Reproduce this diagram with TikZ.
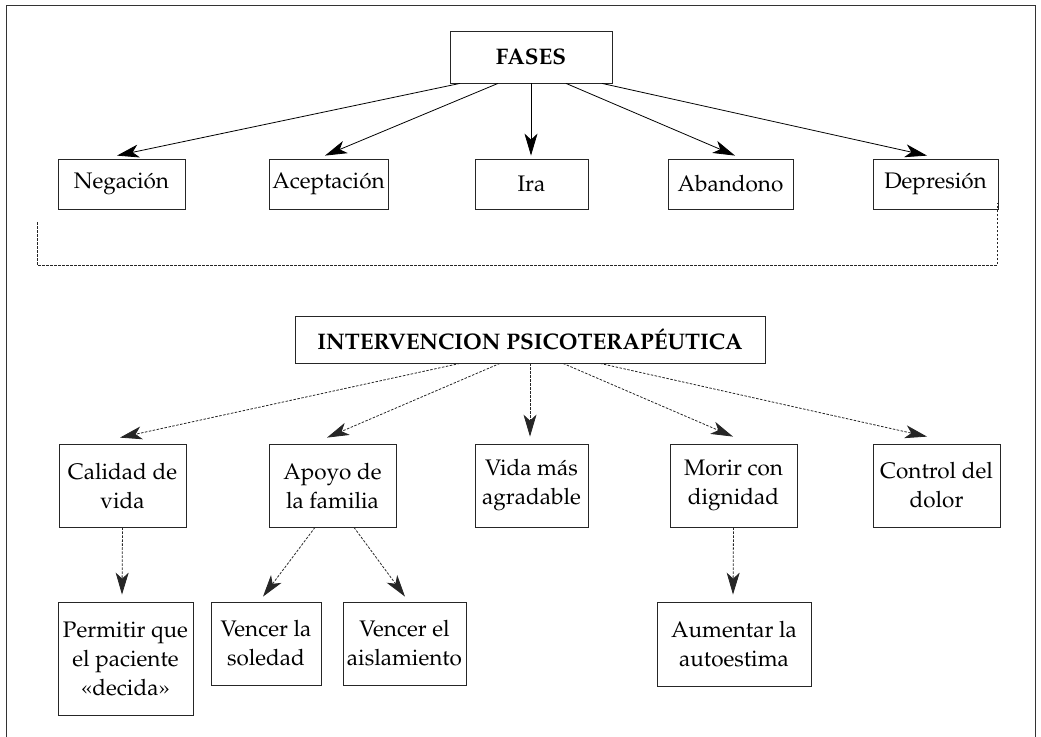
\documentclass[tikz,border=0pt]{standalone}
\usepackage[T1]{fontenc}
\usepackage{mathpazo}
\usetikzlibrary{arrows.meta}
\begin{document}
\begin{tikzpicture}[x=1pt,y=-1pt,
  box/.style={draw=black!85, line width=0.8pt, inner sep=0pt, align=center,
    font=\fontsize{22.5}{29}\selectfont},
  head/.style={box, font=\fontsize{22.5}{29}\selectfont\bfseries},
  tip/.style={-{Stealth[length=22pt,width=13pt,inset=6pt]}},
  solidarrow/.style={tip, line width=0.8pt, black},
  dasharrow/.style={tip, line width=0.8pt, black!85, dash pattern=on 2.5pt off 1.5pt},
  bracketline/.style={line width=0.8pt, black!85, dash pattern=on 2.5pt off 1.5pt}]
\useasboundingbox (0,0) rectangle (1041,736);
% outer frame
\draw[line width=1pt, black!80] (6,740) -- (6,5) -- (1035,5) -- (1035,740);

% top heading
\node[head, minimum width=162pt, minimum height=52pt] (fases) at (531,57) {FASES};
% phases
\node[box, minimum width=127pt, minimum height=50pt] (neg)  at (121.5,184) {Negaci\'on};
\node[box, minimum width=119pt, minimum height=50pt] (acep) at (328.5,184) {Aceptaci\'on};
\node[box, minimum width=113pt, minimum height=50pt] (ira)  at (531.5,184) {Ira};
\node[box, minimum width=125pt, minimum height=50pt] (aban) at (730.5,184) {Abandono};
\node[box, minimum width=125pt, minimum height=50pt] (depr) at (935.5,184) {Depresi\'on};

\draw[solidarrow] ([xshift=-71pt]fases.south) -- ([xshift=-4.5pt,yshift=3pt]neg.north);
\draw[solidarrow] ([xshift=-33pt]fases.south) -- ([xshift=-3.5pt,yshift=3pt]acep.north);
\draw[solidarrow] (fases.south) -- ([xshift=-0.5pt,yshift=3pt]ira.north);
\draw[solidarrow] ([xshift=35pt]fases.south) -- ([xshift=4.5pt,yshift=3pt]aban.north);
\draw[solidarrow] ([xshift=71pt]fases.south) -- ([xshift=-8.5pt,yshift=3pt]depr.north);

% bracket
\coordinate (bl) at (37,222);
\coordinate (br) at (997,203);
\draw[bracketline] (bl) -- (bl |- 0,265) -- (br |- 0,265) -- (br);

% intervention
\node[head, minimum width=470pt, minimum height=47pt] (interv) at (530,339.5) {INTERVENCION PSICOTERAP\'EUTICA};

\node[box, minimum width=127pt, minimum height=83pt] (cal)   at (122.5,485.5) {Calidad de\\vida};
\node[box, minimum width=127pt, minimum height=83pt] (apoyo) at (332.5,485.5) {Apoyo de\\la familia};
\node[box, minimum width=113pt, minimum height=83pt] (vida)  at (531.5,485.5) {Vida m\'as\\agradable};
\node[box, minimum width=127pt, minimum height=83pt] (morir) at (733.5,485.5) {Morir con\\dignidad};
\node[box, minimum width=127pt, minimum height=83pt] (ctrl)  at (936.5,485.5) {Control del\\dolor};

\draw[dasharrow] ([xshift=-70pt]interv.south) -- ([xshift=-2.5pt,yshift=6pt]cal.north);
\draw[dasharrow] ([xshift=-30pt]interv.south) -- ([xshift=-5.5pt,yshift=6pt]apoyo.north);
\draw[dasharrow] (interv.south) -- ([xshift=-1.5pt,yshift=7pt]vida.north);
\draw[dasharrow] ([xshift=33pt]interv.south) -- ([xshift=-0.5pt,yshift=7pt]morir.north);
\draw[dasharrow] ([xshift=70pt]interv.south) -- ([xshift=-9.5pt,yshift=7pt]ctrl.north);

% third row
\node[box, minimum width=135pt, minimum height=113pt] (perm) at (125.5,658.5) {Permitir que\\el paciente\\\guillemotleft decida\guillemotright};
\node[box, minimum width=110pt, minimum height=83pt] (sol)  at (266,643.5) {Vencer la\\soledad};
\node[box, minimum width=123pt, minimum height=83pt] (aisl) at (404.5,643.5) {Vencer el\\aislamiento};
\node[box, minimum width=154pt, minimum height=84pt] (aum)  at (734,644) {Aumentar la\\autoestima};

\draw[dasharrow] (cal.south) -- ([xshift=-3.5pt,yshift=7pt]perm.north);
\draw[dasharrow] ([xshift=-17.5pt]apoyo.south) -- ([xshift=-3pt,yshift=5pt]sol.north);
\draw[dasharrow] ([xshift=21.5pt]apoyo.south) -- ([xshift=0.5pt,yshift=5pt]aisl.north);
\draw[dasharrow] (morir.south) -- ([xshift=-1pt,yshift=7pt]aum.north);
\end{tikzpicture}
\end{document}
